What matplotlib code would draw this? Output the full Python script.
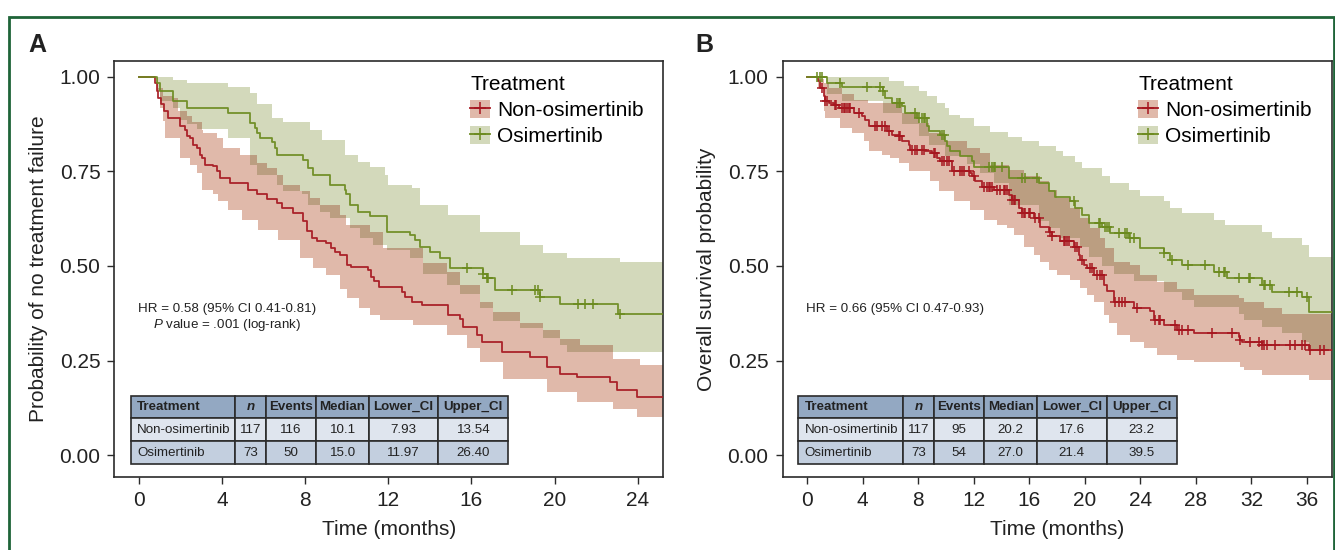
import numpy as np
import matplotlib
matplotlib.use('Agg')
import matplotlib.pyplot as plt
from matplotlib.patches import Patch, Rectangle
from matplotlib.lines import Line2D

plt.rcParams['font.family'] = ['Liberation Sans', 'DejaVu Sans']
plt.rcParams['mathtext.fontset'] = 'custom'
plt.rcParams['mathtext.rm'] = 'Liberation Sans'
plt.rcParams['mathtext.it'] = 'Liberation Sans:italic'

# ---------------- Panel A data (time to treatment failure) ----------------
a_red_t = [0, 0.78, 0.86, 0.95, 1.07, 1.2, 1.4, 2.0, 2.23, 2.31, 2.47, 2.63, 2.79, 2.95, 3.03, 3.19,
           3.59, 3.75, 3.91, 4.39, 5.27, 5.67, 6.15, 6.63, 6.87, 7.43, 7.91, 8.07, 8.31, 8.55, 9.03,
           9.27, 9.43, 9.67, 10.0, 10.2, 11.04, 11.15, 11.3, 11.55, 12.64, 12.8, 13.12, 13.6, 14.89,
           15.45, 15.61, 16.25, 16.49, 17.45, 18.81, 19.61, 20.26, 21.06, 22.66, 22.98, 23.94]
a_red_s = [1.0, 0.983, 0.962, 0.944, 0.927, 0.909, 0.891, 0.869, 0.86, 0.843, 0.838, 0.821, 0.812,
           0.794, 0.786, 0.768, 0.764, 0.751, 0.733, 0.72, 0.702, 0.689, 0.676, 0.667, 0.654, 0.641,
           0.618, 0.592, 0.574, 0.565, 0.56, 0.547, 0.538, 0.53, 0.503, 0.497, 0.489, 0.472, 0.46,
           0.445, 0.432, 0.418, 0.405, 0.397, 0.37, 0.361, 0.339, 0.317, 0.299, 0.273, 0.26, 0.233,
           0.215, 0.207, 0.194, 0.171, 0.153]
a_red_hi_t = [0, 0.86, 0.94, 1.18, 1.66, 1.9, 2.31, 2.55, 3.03, 3.11, 3.75, 4.07, 4.87, 5.67, 6.15,
              6.63, 6.95, 7.75, 8.23, 8.71, 9.67, 9.99, 11.12, 11.76, 13.68, 14.81, 15.45, 16.41,
              17.05, 18.33, 19.45, 20.25, 21.22, 22.82, 24.1]
a_red_hi_s = [1.0, 0.997, 0.971, 0.949, 0.944, 0.909, 0.896, 0.882, 0.86, 0.852, 0.838, 0.812, 0.794,
              0.772, 0.759, 0.741, 0.715, 0.697, 0.68, 0.662, 0.635, 0.609, 0.591, 0.547, 0.507,
              0.485, 0.45, 0.405, 0.379, 0.348, 0.331, 0.308, 0.29, 0.255, 0.237]
a_red_lo_t = [0, 0.86, 1.02, 1.18, 1.26, 1.98, 2.47, 2.79, 3.03, 3.59, 3.83, 4.31, 4.95, 5.75, 6.71,
              7.75, 8.39, 9.03, 9.67, 10.0, 10.6, 11.1, 11.6, 13.2, 14.81, 15.77, 16.41, 17.53,
              19.61, 21.06, 22.82, 23.94]
a_red_lo_s = [1.0, 0.962, 0.918, 0.883, 0.838, 0.785, 0.768, 0.745, 0.701, 0.689, 0.671, 0.649,
              0.622, 0.596, 0.569, 0.521, 0.494, 0.476, 0.44, 0.414, 0.39, 0.37, 0.357, 0.344,
              0.317, 0.282, 0.246, 0.202, 0.167, 0.141, 0.123, 0.101]

a_grn_t = [0, 0.86, 1.02, 1.66, 2.31, 4.31, 5.35, 5.59, 5.67, 5.83, 6.39, 6.55, 6.63, 7.92, 8.15,
           8.39, 9.19, 9.91, 9.99, 10.15, 10.56, 11.12, 11.92, 13.04, 13.28, 13.52, 14.0, 14.48,
           14.97, 16.57, 16.73, 17.13, 19.29, 20.25, 23.06]
a_grn_s = [1.0, 0.984, 0.962, 0.935, 0.918, 0.905, 0.878, 0.865, 0.852, 0.838, 0.829, 0.812, 0.794,
           0.781, 0.759, 0.741, 0.715, 0.702, 0.689, 0.662, 0.644, 0.631, 0.591, 0.582, 0.569,
           0.551, 0.538, 0.52, 0.494, 0.48, 0.467, 0.436, 0.418, 0.4, 0.374]
a_grn_cens = [15.77, 16.57, 16.73, 16.81, 17.93, 19.05, 19.21, 19.29, 21.14, 21.46, 21.86, 23.14]
a_grn_hi_t = [0, 0.79, 1.66, 2.31, 4.31, 5.35, 5.67, 6.39, 6.95, 8.23, 8.79, 9.91, 10.56, 11.12,
              11.84, 12.0, 13.12, 13.52, 14.89, 16.41, 18.33, 19.45, 20.57, 23.14]
a_grn_hi_s = [1.0, 1.0, 0.993, 0.984, 0.973, 0.958, 0.927, 0.891, 0.882, 0.86, 0.834, 0.794, 0.776,
              0.763, 0.741, 0.715, 0.706, 0.662, 0.635, 0.591, 0.556, 0.534, 0.52, 0.511]
a_grn_lo_t = [0, 0.86, 1.02, 1.66, 2.0, 2.31, 2.79, 4.31, 5.35, 5.67, 6.63, 6.95, 7.83, 8.15, 8.71,
              9.19, 10.15, 10.63, 11.28, 11.92, 13.04, 13.68, 14.81, 15.45, 16.41, 17.05, 18.33,
              19.45, 20.25, 20.6]
a_grn_lo_s = [1.0, 0.96, 0.935, 0.918, 0.886, 0.875, 0.861, 0.838, 0.768, 0.741, 0.715, 0.697,
              0.689, 0.662, 0.644, 0.627, 0.6, 0.574, 0.556, 0.543, 0.52, 0.48, 0.45, 0.425, 0.39,
              0.355, 0.335, 0.31, 0.29, 0.273]
a_followup_end = 25.2

# ---------------- Panel B data (overall survival) ----------------
b_red_t = [0, 0.77, 0.96, 1.2, 1.32, 1.56, 1.92, 2.28, 3.36, 3.96, 4.2, 4.44, 5.76, 6.12, 6.6, 6.84,
           7.32, 7.44, 8.52, 9.0, 9.36, 9.6, 10.44, 11.76, 11.88, 12.12, 12.6, 13.44, 14.52, 14.76,
           15.24, 15.48, 16.32, 16.8, 17.4, 17.64, 18.24, 19.2, 19.56, 19.68, 19.92, 20.16, 20.64,
           21.36, 21.6, 22.08, 23.52, 24.72, 24.96, 25.68, 26.64, 27.84, 31.08, 31.2, 31.32, 32.76,
           36.12]
b_red_s = [1.0, 0.989, 0.971, 0.949, 0.936, 0.931, 0.926, 0.918, 0.905, 0.896, 0.887, 0.869, 0.856,
           0.847, 0.843, 0.83, 0.821, 0.807, 0.803, 0.799, 0.786, 0.777, 0.751, 0.746, 0.737, 0.724,
           0.71, 0.701, 0.688, 0.675, 0.653, 0.64, 0.626, 0.604, 0.591, 0.578, 0.565, 0.551, 0.529,
           0.516, 0.503, 0.494, 0.476, 0.45, 0.433, 0.406, 0.388, 0.38, 0.357, 0.344, 0.33, 0.322,
           0.313, 0.304, 0.3, 0.291, 0.278]
b_red_cens = [1.08, 1.32, 1.44, 2.04, 2.11, 2.52, 2.64, 2.76, 2.88, 3.0, 3.12, 3.72, 4.92, 5.04, 5.4,
              5.64, 5.88, 6.6, 6.72, 7.56, 7.8, 7.92, 8.28, 8.4, 9.12, 9.24, 9.72, 9.84, 10.08, 10.2,
              10.56, 11.04, 11.16, 11.28, 11.64, 12.0, 12.72, 12.96, 13.08, 13.2, 13.32, 13.68,
              13.92, 14.16, 14.28, 14.4, 14.76, 14.88, 15.0, 15.48, 15.6, 15.72, 15.96, 16.08,
              16.44, 16.68, 17.52, 17.64, 18.48, 18.6, 18.72, 18.84, 19.32, 19.44, 19.8, 20.4,
              20.52, 20.88, 21.12, 21.24, 22.2, 22.44, 22.68, 22.92, 23.76, 25.08, 25.32, 25.44,
              26.52, 26.76, 27.0, 27.4, 29.16, 30.6, 31.2, 31.92, 32.52, 32.76, 32.88, 33.12, 33.72,
              34.8, 35.16, 35.64, 35.88, 36.24, 36.96, 37.2]
b_red_hi_t = [0, 0.77, 1.2, 1.56, 2.5, 3.4, 4.4, 6.84, 8.04, 8.76, 9.96, 11.52, 12.48, 13.2, 14.52,
              15.6, 16.8, 17.4, 18.0, 18.96, 19.68, 20.4, 21.12, 21.48, 22.08, 23.28, 24.0, 25.2,
              26.64, 27.84, 31.08, 31.44, 32.88, 34.2]
b_red_hi_s = [1.0, 0.995, 0.985, 0.97, 0.955, 0.94, 0.93, 0.905, 0.878, 0.851, 0.83, 0.812, 0.799,
              0.768, 0.754, 0.737, 0.724, 0.702, 0.68, 0.653, 0.626, 0.6, 0.573, 0.547, 0.511, 0.503,
              0.476, 0.458, 0.44, 0.423, 0.414, 0.404, 0.388, 0.374]
b_red_lo_t = [0, 0.77, 1.2, 1.32, 2.4, 3.24, 4.08, 4.44, 5.4, 6.0, 6.6, 7.32, 8.88, 9.48, 10.56,
              11.76, 12.72, 13.68, 14.4, 14.88, 15.6, 16.32, 16.8, 17.4, 18.0, 18.96, 19.68, 20.16,
              20.64, 21.36, 21.72, 22.32, 23.28, 24.24, 25.2, 26.64, 27.84, 31.2, 31.44, 32.76,
              36.12]
b_red_lo_s = [1.0, 0.97, 0.909, 0.891, 0.865, 0.852, 0.83, 0.803, 0.794, 0.785, 0.772, 0.75, 0.724,
              0.697, 0.671, 0.649, 0.622, 0.609, 0.6, 0.582, 0.551, 0.529, 0.511, 0.489, 0.476,
              0.463, 0.441, 0.423, 0.406, 0.371, 0.348, 0.317, 0.3, 0.282, 0.265, 0.251, 0.246,
              0.233, 0.224, 0.211, 0.198]

b_grn_t = [0, 1.44, 2.52, 5.47, 5.64, 6.12, 6.84, 7.08, 7.92, 8.64, 8.76, 9.6, 9.96, 10.08, 10.32,
           11.04, 11.88, 12.0, 14.52, 16.68, 17.4, 17.88, 18.96, 19.32, 19.8, 20.28, 21.24, 21.84,
           23.16, 24.0, 25.68, 26.16, 27.0, 29.28, 30.24, 32.76, 33.48, 35.64, 36.12]
b_grn_s = [1.0, 0.984, 0.974, 0.962, 0.944, 0.931, 0.922, 0.905, 0.891, 0.869, 0.856, 0.847, 0.83,
           0.816, 0.803, 0.79, 0.777, 0.763, 0.732, 0.719, 0.697, 0.683, 0.671, 0.653, 0.635, 0.613,
           0.604, 0.587, 0.574, 0.547, 0.534, 0.516, 0.503, 0.485, 0.467, 0.449, 0.432, 0.419,
           0.379]
b_grn_cens = [0.72, 0.96, 1.08, 2.4, 4.32, 5.28, 5.47, 6.48, 6.6, 6.72, 7.8, 8.04, 8.28, 8.4, 8.52,
              9.72, 9.84, 13.08, 13.32, 13.44, 13.56, 14.04, 15.48, 15.72, 16.56, 19.2, 21.0, 21.12,
              21.48, 21.6, 21.72, 22.44, 22.92, 23.04, 23.28, 23.52, 25.68, 26.28, 27.4, 28.68,
              29.64, 30.0, 30.12, 31.08, 31.8, 31.92, 32.88, 33.0, 33.36, 34.68, 35.28, 36.0]
b_grn_hi_t = [0, 5.88, 6.96, 8.04, 8.64, 9.36, 9.96, 10.2, 11.04, 12.0, 13.2, 14.5, 15.5, 16.7, 17.9,
              18.4, 19.3, 19.8, 21.24, 21.84, 23.16, 24.0, 25.68, 26.16, 27.0, 29.28, 30.12, 32.76,
              33.48, 35.64, 36.12]
b_grn_hi_s = [1.0, 0.988, 0.975, 0.962, 0.949, 0.931, 0.918, 0.9, 0.891, 0.869, 0.855, 0.84, 0.83,
              0.816, 0.803, 0.79, 0.776, 0.759, 0.737, 0.719, 0.702, 0.684, 0.671, 0.653, 0.64,
              0.622, 0.608, 0.591, 0.573, 0.556, 0.525]
b_grn_lo_t = [0, 1.44, 2.52, 5.47, 6.84, 8.04, 8.76, 9.96, 11.52, 12.48, 13.5, 14.52, 16.68, 17.4,
              18.24, 19.68, 20.28, 21.24, 22.08, 23.52, 25.68, 27.0, 27.84, 31.08, 31.44, 32.76,
              34.2, 35.64, 36.12]
b_grn_lo_s = [1.0, 0.955, 0.935, 0.905, 0.875, 0.845, 0.82, 0.79, 0.77, 0.745, 0.72, 0.66, 0.62,
              0.6, 0.575, 0.55, 0.525, 0.5, 0.48, 0.46, 0.43, 0.41, 0.392, 0.374, 0.357, 0.339,
              0.322, 0.3, 0.28]
b_followup_end = 37.8

# ---------------- Tables & annotations ----------------
table_cols = ['Treatment', 'n', 'Events', 'Median', 'Lower_CI', 'Upper_CI']
a_table_rows = [['Non-osimertinib', '117', '116', '10.1', '7.93', '13.54'],
                ['Osimertinib', '73', '50', '15.0', '11.97', '26.40']]
b_table_rows = [['Non-osimertinib', '117', '95', '20.2', '17.6', '23.2'],
                ['Osimertinib', '73', '54', '27.0', '21.4', '39.5']]
groups = ['Non-osimertinib', 'Osimertinib']
a_hr_text = 'HR = 0.58 (95% CI 0.41-0.81)\n$\\it{P}$ value = .001 (log-rank)'
b_hr_text = 'HR = 0.66 (95% CI 0.47-0.93)'
a_xticks = [0, 4, 8, 12, 16, 20, 24]
b_xticks = [0, 4, 8, 12, 16, 20, 24, 28, 32, 36]
y_ticks = [0.0, 0.25, 0.5, 0.75, 1.0]

# ---------------- Styling ----------------
RED_LINE = '#a6161f'
GRN_LINE = '#6b8a1e'
RED_FILL = '#e0b9aa'
GRN_FILL = '#d3d9bb'
OVL_FILL = '#bb9e81'
DARK = '#2b2b2b'
HDR = '#93a8c2'
ROW1 = '#dfe5ee'
ROW2 = '#c3cfdf'


def step_eval(times, vals, grid):
    times = np.asarray(times, float)
    vals = np.asarray(vals, float)
    idx = np.searchsorted(times, grid, side='right') - 1
    idx = np.clip(idx, 0, len(vals) - 1)
    return vals[idx]


def draw_panel(ax, red, grn, end, xlim, xticks, ylabel, hr_text, hr_xy, hr_ha,
               table_rows, tbl_bbox, leg_x):
    (r_t, r_s, r_ht, r_hs, r_lt, r_ls, r_c) = red
    (g_t, g_s, g_ht, g_hs, g_lt, g_ls, g_c) = grn
    # confidence bands
    for (ht, hs, lt, ls, col) in [(r_ht, r_hs, r_lt, r_ls, RED_FILL),
                                  (g_ht, g_hs, g_lt, g_ls, GRN_FILL)]:
        grid = np.unique(np.concatenate([ht, lt, [end]]))
        hi = step_eval(ht, hs, grid)
        lo = step_eval(lt, ls, grid)
        ax.fill_between(grid, lo, hi, step='post', color=col, lw=0, zorder=1)
    # overlap of the two bands
    grid = np.unique(np.concatenate([r_ht, r_lt, g_ht, g_lt, [end]]))
    hi = np.minimum(step_eval(r_ht, r_hs, grid), step_eval(g_ht, g_hs, grid))
    lo = np.maximum(step_eval(r_lt, r_ls, grid), step_eval(g_lt, g_ls, grid))
    hi = np.maximum(hi, lo)
    ax.fill_between(grid, lo, hi, step='post', color=OVL_FILL, lw=0, zorder=2)
    # survival curves and censor marks
    for (t, s, c, col) in [(r_t, r_s, r_c, RED_LINE), (g_t, g_s, g_c, GRN_LINE)]:
        ax.step(np.append(t, end), np.append(s, s[-1]), where='post', color=col,
                lw=1.3, zorder=3, alpha=0.92)
        if len(c):
            cy = step_eval(t, s, np.asarray(c))
            ax.plot(c, cy, ls='none', marker='+', ms=7, mew=1.1, color=col, zorder=4)

    ax.set_xlim(*xlim)
    ax.set_ylim(-0.058, 1.042)
    ax.set_xticks(xticks)
    ax.set_yticks(y_ticks)
    ax.set_yticklabels([f'{v:.2f}' for v in y_ticks])
    ax.tick_params(direction='out', length=5, width=1.0, color=DARK, labelsize=15,
                   labelcolor='#222222', pad=5)
    for sp in ax.spines.values():
        sp.set_color(DARK)
        sp.set_linewidth(1.2)
    ax.set_xlabel('Time (months)', fontsize=15, color='#222222', labelpad=7)
    ax.set_ylabel(ylabel, fontsize=15, color='#222222', labelpad=8)

    ax.text(hr_xy[0], hr_xy[1], hr_text, transform=ax.transAxes, ha=hr_ha, va='top',
            fontsize=9.6, color='#222222', linespacing=1.15, multialignment='center')

    handles = [(Patch(facecolor=RED_FILL, edgecolor='none'),
                Line2D([], [], color=RED_LINE, lw=1.3, marker='+', ms=8, mew=1.1)),
               (Patch(facecolor=GRN_FILL, edgecolor='none'),
                Line2D([], [], color=GRN_LINE, lw=1.3, marker='+', ms=8, mew=1.1))]
    ax.legend(handles, groups, title='Treatment', loc='upper left',
              bbox_to_anchor=(leg_x, 0.966), frameon=False, fontsize=15,
              title_fontsize=15, handlelength=0.95, handleheight=0.9,
              handletextpad=0.35, labelspacing=0.3, borderaxespad=0,
              alignment='left', borderpad=0)

    widths = [104.5, 30.7, 50.7, 52.3, 69.7, 70.0]
    tot = sum(widths)
    tbl = ax.table(cellText=table_rows, colLabels=table_cols,
                   colWidths=[w / tot for w in widths], bbox=tbl_bbox, cellLoc='center')
    tbl.auto_set_font_size(False)
    tbl.set_fontsize(9.6)
    tbl.set_zorder(6)
    for (r, c), cell in tbl.get_celld().items():
        cell.set_edgecolor(DARK)
        cell.set_linewidth(1.2)
        cell.set_facecolor(HDR if r == 0 else (ROW1 if r == 1 else ROW2))
        cell.get_text().set_color('#222222')
        if r == 0:
            cell.get_text().set_fontweight('bold')
            if c == 1:
                cell.get_text().set_fontstyle('italic')
        if c == 0:
            cell._loc = 'left'
            cell.PAD = 0.06
            cell.get_text().set_ha('left')


fig = plt.figure(figsize=(13.35, 5.5), dpi=100)
W, H = 1335.0, 550.0
axA = fig.add_axes([114.3 / W, 73 / H, 549 / W, 416 / H])
axB = fig.add_axes([782.5 / W, 73 / H, 549.5 / W, 416 / H])

draw_panel(axA,
           (a_red_t, a_red_s, a_red_hi_t, a_red_hi_s, a_red_lo_t, a_red_lo_s, []),
           (a_grn_t, a_grn_s, a_grn_hi_t, a_grn_hi_s, a_grn_lo_t, a_grn_lo_s, a_grn_cens),
           a_followup_end, (-1.17, 25.22), a_xticks, 'Probability of no treatment failure',
           a_hr_text, (0.205, 0.418), 'center', a_table_rows,
           [0.0299, 0.03125, 0.6878, 0.1642], 0.648)

draw_panel(axB,
           (b_red_t, b_red_s, b_red_hi_t, b_red_hi_s, b_red_lo_t, b_red_lo_s, b_red_cens),
           (b_grn_t, b_grn_s, b_grn_hi_t, b_grn_hi_s, b_grn_lo_t, b_grn_lo_s, b_grn_cens),
           b_followup_end, (-1.76, 37.8), b_xticks, 'Overall survival probability',
           b_hr_text, (0.042, 0.418), 'left', b_table_rows,
           [0.0288, 0.03125, 0.6886, 0.1642], 0.647)

fig.text(28 / W, 1 - 45 / H, 'A', fontsize=18, fontweight='bold', va='center', ha='left',
         color='#222222')
fig.text(695 / W, 1 - 45 / H, 'B', fontsize=18, fontweight='bold', va='center', ha='left',
         color='#222222')

fig.add_artist(Rectangle((9 / W, -0.05), (1334 - 9) / W, (1.05 - 17 / H),
                         transform=fig.transFigure, fill=False, edgecolor='#1e6438',
                         lw=2.0, clip_on=False))

fig.savefig('out.png', dpi=100)
